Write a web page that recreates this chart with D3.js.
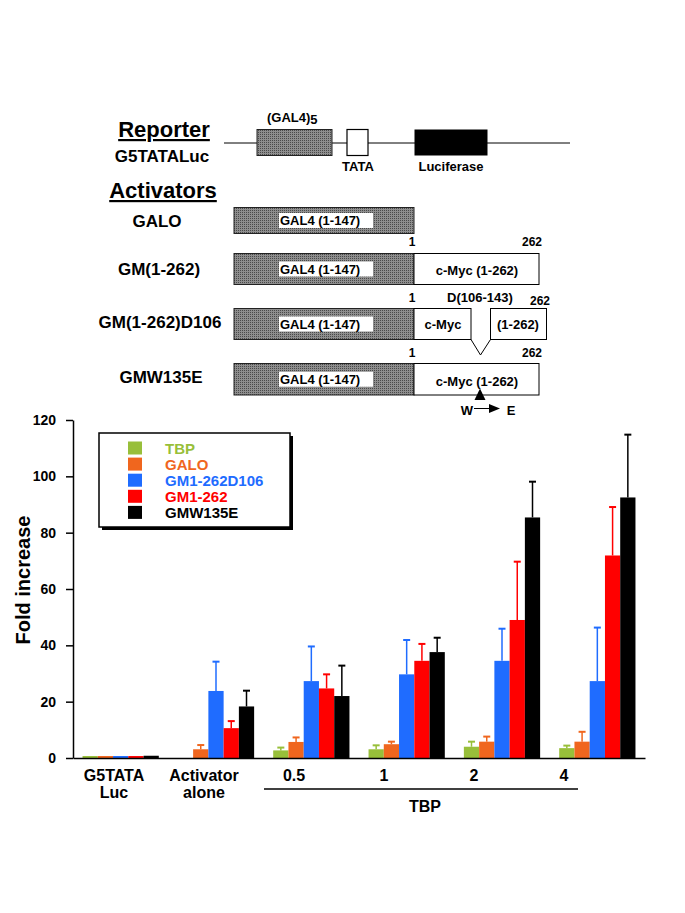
<!DOCTYPE html>
<html><head><meta charset="utf-8">
<script src="https://cdn.jsdelivr.net/npm/d3@7"></script>
<style>
body{margin:0;background:#fff}
svg{display:block}
text{font-family:"Liberation Sans",Arial,Helvetica,sans-serif;font-weight:bold;fill:#000}
</style>
</head><body>
<svg id="c" width="685" height="913"></svg>
<script>
// ---------- data ----------
const categories = ["G5TATA|Luc", "Activator|alone", "0.5", "1", "2", "4"];
const seriesNames = ["TBP", "GALO", "GM1-262D106", "GM1-262", "GMW135E"];
const seriesColors = ["#98bf3a", "#f0661e", "#1f6cff", "#ff0000", "#000000"];
const tbpValues   = [0.7, 0,    2.7,  3.1,  4.0,  3.5];
const galoValues  = [0.7, 3.1,  5.7,  4.9,  5.8,  5.8];
const gm106Values = [0.7, 23.8, 27.3, 29.7, 34.5, 27.3];
const gm262Values = [0.7, 10.6, 24.7, 34.5, 49.0, 71.9];
const gmwValues   = [0.8, 18.3, 22.0, 37.6, 85.4, 92.5];
const tbpErr   = [0, 0,    1.0,  1.4,  1.8,  0.9];
const galoErr  = [0, 1.5,  1.6,  0.9,  1.8,  3.5];
const gm106Err = [0, 10.4, 12.3, 12.2, 11.4, 19.0];
const gm262Err = [0, 2.5,  5.0,  6.0,  20.7, 17.2];
const gmwErr   = [0, 5.6,  10.8, 5.1,  12.7, 22.3];
const yTicks = [0, 20, 40, 60, 80, 100, 120];
const yTitle = "Fold increase";
const groupTitle = "TBP";

const allValues = [tbpValues, galoValues, gm106Values, gm262Values, gmwValues];
const allErrs = [tbpErr, galoErr, gm106Err, gm262Err, gmwErr];

const svg = d3.select("#c");
svg.append("rect").attr("width", 685).attr("height", 913).attr("fill", "#fff");

// ---------- pattern ----------
const defs = svg.append("defs");
const pat = defs.append("pattern").attr("id", "dots").attr("width", 2).attr("height", 2)
  .attr("patternUnits", "userSpaceOnUse");
pat.append("rect").attr("width", 2).attr("height", 2).attr("fill", "#8e8e8e");
pat.append("rect").attr("width", 1).attr("height", 1).attr("fill", "#4a4a4a");

// ---------- top diagram ----------
const diag = svg.append("g");
function txt(g, x, y, s, size, anchor) {
  return g.append("text").attr("x", x).attr("y", y).attr("font-size", size)
    .attr("text-anchor", anchor || "middle").text(s);
}
// Reporter
txt(diag, 164, 137, "Reporter", 22).attr("text-decoration", "underline");
txt(diag, 162, 162, "G5TATALuc", 17);
diag.append("line").attr("x1", 224).attr("x2", 570).attr("y1", 143).attr("y2", 143)
  .attr("stroke", "#000").attr("stroke-width", 1);
diag.append("rect").attr("x", 257).attr("y", 129.5).attr("width", 75).attr("height", 26)
  .attr("fill", "url(#dots)").attr("stroke", "#222").attr("stroke-width", 1);
const g5 = txt(diag, 267, 122, "(GAL4)", 13, "start");
g5.append("tspan").attr("dy", 2).text("5");
diag.append("rect").attr("x", 347).attr("y", 129.5).attr("width", 21).attr("height", 26)
  .attr("fill", "#fff").attr("stroke", "#000").attr("stroke-width", 1.2);
txt(diag, 358, 171, "TATA", 13);
diag.append("rect").attr("x", 414.5).attr("y", 129.5).attr("width", 73).attr("height", 26)
  .attr("fill", "#000");
txt(diag, 451, 171, "Luciferase", 13);

// Activators
txt(diag, 163, 198, "Activators", 22).attr("text-decoration", "underline");

function galBox(y, h) {
  diag.append("rect").attr("x", 234).attr("y", y).attr("width", 180).attr("height", h)
    .attr("fill", "url(#dots)").attr("stroke", "#222").attr("stroke-width", 1);
  const cy = y + h / 2;
  diag.append("rect").attr("x", 279).attr("y", cy - 7.5).attr("width", 94).attr("height", 15)
    .attr("fill", "#fff");
  txt(diag, 280, cy + 4.5, "GAL4 (1-147)", 13, "start");
}
// GALO
txt(diag, 157, 227, "GALO", 17);
galBox(207.5, 26);
// GM(1-262)
txt(diag, 159, 275, "GM(1-262)", 17);
galBox(253.5, 31);
diag.append("rect").attr("x", 414).attr("y", 253.5).attr("width", 125).attr("height", 31)
  .attr("fill", "#fff").attr("stroke", "#000").attr("stroke-width", 1);
txt(diag, 477, 274.5, "c-Myc (1-262)", 13);
txt(diag, 412, 246, "1", 12);
txt(diag, 532, 246, "262", 12);
// GM(1-262)D106
txt(diag, 160, 328, "GM(1-262)D106", 17);
galBox(308.5, 31);
diag.append("rect").attr("x", 414).attr("y", 308.5).attr("width", 57).attr("height", 31)
  .attr("fill", "#fff").attr("stroke", "#000").attr("stroke-width", 1);
diag.append("rect").attr("x", 490.5).attr("y", 308.5).attr("width", 56).attr("height", 31)
  .attr("fill", "#fff").attr("stroke", "#000").attr("stroke-width", 1);
diag.append("path").attr("d", "M471,339.5L480.5,355L490.5,339.5").attr("fill", "none")
  .attr("stroke", "#000").attr("stroke-width", 1);
txt(diag, 443, 329, "c-Myc", 13);
txt(diag, 518, 329, "(1-262)", 13);
txt(diag, 412, 302, "1", 12);
txt(diag, 480, 302, "D(106-143)", 13);
txt(diag, 540, 305, "262", 12);
// GMW135E
txt(diag, 161, 383, "GMW135E", 17);
galBox(363.5, 31.5);
diag.append("rect").attr("x", 414).attr("y", 363.5).attr("width", 125).attr("height", 31.5)
  .attr("fill", "#fff").attr("stroke", "#000").attr("stroke-width", 1);
txt(diag, 477, 386, "c-Myc (1-262)", 13);
txt(diag, 412, 357, "1", 12);
txt(diag, 532, 357, "262", 12);
diag.append("path").attr("d", "M480,388.5L485.5,400L474.5,400Z").attr("fill", "#000");
txt(diag, 467, 414.5, "W", 13);
diag.append("line").attr("x1", 474).attr("x2", 490).attr("y1", 408.5).attr("y2", 408.5)
  .attr("stroke", "#000").attr("stroke-width", 1);
diag.append("path").attr("d", "M489,404L500,408.5L489,413Z").attr("fill", "#000");
txt(diag, 511, 414.5, "E", 13);

// ---------- chart ----------
const x = d3.scaleBand().domain(categories).range([73, 645]).paddingInner(0.2).paddingOuter(0.1);
const xs = d3.scaleBand().domain(seriesNames).range([0, x.bandwidth()]);
const y = d3.scaleLinear().domain([0, 120]).range([758, 420]);
const labelX = d3.scalePoint().domain(categories).range([114, 564]);

const chart = svg.append("g");

// bars
seriesNames.forEach((s, j) => {
  const vals = allValues[j], errs = allErrs[j], col = seriesColors[j];
  const data = categories.map((c, i) => ({c, v: vals[i], e: errs[i]})).filter(d => d.v > 0);
  chart.append("g").selectAll("rect").data(data).join("rect")
    .attr("x", d => x(d.c) + xs(s))
    .attr("y", d => y(d.v))
    .attr("width", xs.bandwidth())
    .attr("height", d => y(0) - y(d.v))
    .attr("fill", col);
  const ed = data.filter(d => d.e > 0);
  const eg = chart.append("g").attr("stroke", col).attr("stroke-width", 1.5);
  eg.selectAll("line.v").data(ed).join("line").attr("class", "v")
    .attr("x1", d => x(d.c) + xs(s) + xs.bandwidth() / 2)
    .attr("x2", d => x(d.c) + xs(s) + xs.bandwidth() / 2)
    .attr("y1", d => y(d.v)).attr("y2", d => y(d.v + d.e));
  eg.selectAll("line.h").data(ed).join("line").attr("class", "h")
    .attr("x1", d => x(d.c) + xs(s) + xs.bandwidth() / 2 - 3.5)
    .attr("x2", d => x(d.c) + xs(s) + xs.bandwidth() / 2 + 3.5)
    .attr("y1", d => y(d.v + d.e)).attr("y2", d => y(d.v + d.e))
    .attr("stroke-width", 2);
});

// axes
const yAxis = chart.append("g").attr("transform", "translate(73,0)")
  .call(d3.axisLeft(y).tickValues(yTicks).tickSize(7).tickPadding(10).tickSizeOuter(0));
yAxis.attr("font-family", null);
yAxis.select(".domain").attr("stroke-width", 1.5);
yAxis.selectAll(".tick line").attr("stroke-width", 1.5);
yAxis.selectAll("text").attr("font-size", 14);

const xAxis = chart.append("g").attr("transform", "translate(0,758)")
  .call(d3.axisBottom(x).tickSize(0).tickSizeOuter(0).tickFormat(() => ""));
xAxis.select(".domain").attr("stroke-width", 1.5);

// x labels
categories.forEach(c => {
  const parts = c.split("|");
  const t = chart.append("text").attr("text-anchor", "middle").attr("font-size", 16);
  parts.forEach((p, k) => t.append("tspan").attr("x", labelX(c)).attr("y", 781 + k * 16.5).text(p));
});
const x0 = labelX(categories[2]) - 30, x1 = labelX(categories[5]) + 14;
chart.append("line").attr("x1", x0).attr("x2", x1).attr("y1", 789).attr("y2", 789)
  .attr("stroke", "#000").attr("stroke-width", 1.5);
chart.append("text").attr("x", (x0 + x1) / 2 + 4).attr("y", 812).attr("text-anchor", "middle")
  .attr("font-size", 16).text(groupTitle);

// y title
chart.append("text").attr("transform", "translate(30,580) rotate(-90)").attr("text-anchor", "middle")
  .attr("font-size", 20).text(yTitle);

// legend
const lg = chart.append("g");
lg.append("rect").attr("x", 102).attr("y", 436).attr("width", 191).attr("height", 94).attr("fill", "#000");
lg.append("rect").attr("x", 99).attr("y", 433).attr("width", 191).attr("height", 94)
  .attr("fill", "#fff").attr("stroke", "#000").attr("stroke-width", 1.5);
seriesNames.forEach((s, j) => {
  const cy = 448 + j * 16.1;
  lg.append("rect").attr("x", 128).attr("y", cy - 6.5).attr("width", 14).attr("height", 13)
    .attr("fill", seriesColors[j]);
  lg.append("text").attr("x", 165).attr("y", cy + 5.5).attr("font-size", 15)
    .style("fill", seriesColors[j]).text(s);
});
</script>
</body></html>
